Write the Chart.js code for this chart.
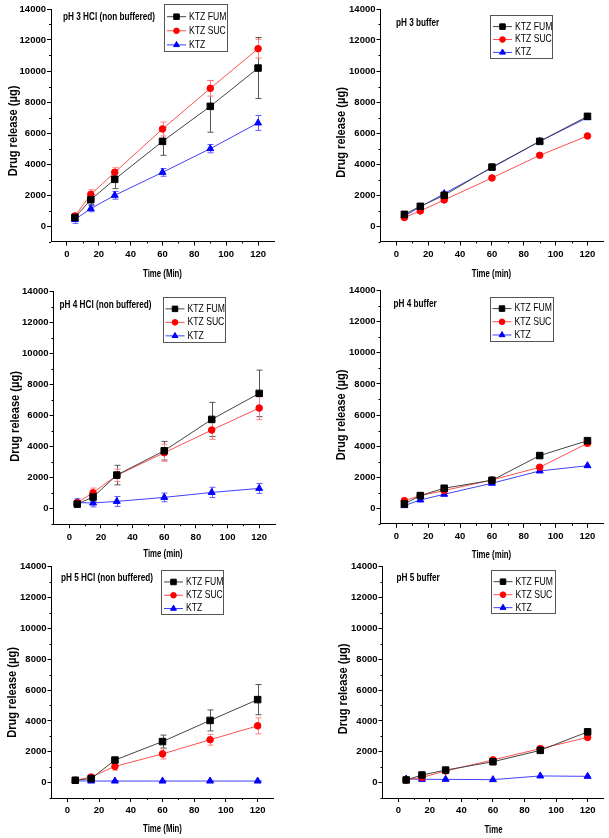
<!DOCTYPE html>
<html>
<head>
<meta charset="utf-8">
<script src="https://cdn.jsdelivr.net/npm/chart.js@4.4.1/dist/chart.umd.min.js"></script>
<style>
  html, body { margin: 0; padding: 0; background: #fff; }
  #wrap { position: relative; width: 609px; height: 838px; overflow: hidden; }
  #wrap canvas { position: absolute; }
</style>
</head>
<body>
<div id="wrap"></div>
<script>
// sampling times (min) and axis ticks
const times = [5, 15, 30, 60, 90, 120];
const xTicks = [0, 20, 40, 60, 80, 100, 120];
const yTicks = [0, 2000, 4000, 6000, 8000, 10000, 12000, 14000];
const seriesNames = ['KTZ FUM', 'KTZ SUC', 'KTZ'];

// pH 3 HCl (non buffered)
const ph3HclFum = [550, 1700, 3010, 5460, 7720, 10190];
const ph3HclSuc = [650, 2040, 3460, 6260, 8880, 11440];
const ph3HclKtz = [420, 1120, 1980, 3460, 4990, 6650];
const ph3HclFumSd = [200, 300, 600, 900, 1670, 1970];
const ph3HclSucSd = [150, 300, 300, 450, 500, 600];
const ph3HclKtzSd = [250, 200, 250, 250, 270, 480];

// pH 3 buffer
const ph3BufFum = [750, 1270, 1980, 3800, 5460, 7075];
const ph3BufSuc = [550, 970, 1680, 3100, 4560, 5810];
const ph3BufKtz = [650, 1230, 2090, 3760, 5460, 6990];

// pH 4 HCl (non buffered)
const ph4HclFum = [300, 750, 2170, 3740, 5760, 7440];
const ph4HclSuc = [390, 1030, 2150, 3610, 5075, 6495];
const ph4HclKtz = [390, 370, 470, 730, 1050, 1310];
const ph4HclFumSd = [200, 300, 630, 600, 1100, 1500];
const ph4HclSucSd = [150, 300, 400, 550, 600, 750];
const ph4HclKtzSd = [250, 250, 320, 280, 330, 320];

// pH 4 buffer
const ph4BufFum = [280, 815, 1290, 1800, 3390, 4350];
const ph4BufSuc = [490, 815, 1140, 1820, 2640, 4180];
const ph4BufKtz = [170, 535, 900, 1610, 2400, 2740];

// pH 5 HCl (non buffered)
const ph5HclFum = [150, 260, 1460, 2660, 4030, 5380];
const ph5HclSuc = [150, 360, 1050, 1860, 2780, 3680];
const ph5HclKtz = [110, 100, 100, 100, 100, 100];
const ph5HclFumSd = [50, 50, 150, 420, 680, 980];
const ph5HclSucSd = [50, 100, 250, 330, 350, 520];
const ph5HclKtzSd = [20, 20, 20, 20, 20, 20];

// pH 5 buffer
const ph5BufFum = [170, 490, 810, 1350, 2090, 3290];
const ph5BufSuc = [170, 340, 750, 1470, 2200, 2930];
const ph5BufKtz = [235, 210, 210, 190, 430, 405];

const FAMILY = '"Liberation Sans", Arial, sans-serif';
const styles = [
  { line: '#444444', point: '#000000', bar: '#555555', shape: 'rect', r: 4.6 },
  { line: '#ff5050', point: '#ff0000', bar: '#ff8080', shape: 'circle', r: 3.3 },
  { line: '#4040ff', point: '#0000ff', bar: '#6060ff', shape: 'triangle', r: 4 }
];

// page layout: cell = canvas box, area = plot frame [left, top, right, bottom]
const panels = [
  { title: 'pH 3 HCl (non buffered)', xTitle: 'Time (Min)',
    data: [ph3HclFum, ph3HclSuc, ph3HclKtz], sd: [ph3HclFumSd, ph3HclSucSd, ph3HclKtzSd],
    cell: [0, 0, 305, 280], area: [51, 9, 274, 241.5],
    titleAt: [63, 17], xTitleAt: [162.5, 274], yTitleAt: [13.5, 131], legend: [164, 4, 227, 51] },
  { title: 'pH 3 buffer', xTitle: 'Time (min)',
    data: [ph3BufFum, ph3BufSuc, ph3BufKtz], sd: null,
    cell: [305, 0, 304, 280], area: [380.5, 9, 603.5, 241.5],
    titleAt: [396, 23.5], xTitleAt: [491.5, 274], yTitleAt: [341.5, 132.5], legend: [490, 15, 552, 58] },
  { title: 'pH 4 HCl (non buffered)', xTitle: 'Time (min)',
    data: [ph4HclFum, ph4HclSuc, ph4HclKtz], sd: [ph4HclFumSd, ph4HclSucSd, ph4HclKtzSd],
    cell: [0, 280, 305, 280], area: [53.5, 291.7, 275, 524.2],
    titleAt: [59.5, 305], xTitleAt: [163, 553.5], yTitleAt: [15, 416.5], legend: [162.5, 296.7, 224, 341.7] },
  { title: 'pH 4 buffer', xTitle: 'Time (min)',
    data: [ph4BufFum, ph4BufSuc, ph4BufKtz], sd: null,
    cell: [305, 280, 304, 280], area: [380.5, 290.7, 603.5, 523.8],
    titleAt: [393.5, 304.5], xTitleAt: [491.5, 555], yTitleAt: [341.5, 415], legend: [489.5, 296.7, 552.5, 340.7] },
  { title: 'pH 5 HCl (non buffered)', xTitle: 'Time (Min)',
    data: [ph5HclFum, ph5HclSuc, ph5HclKtz], sd: [ph5HclFumSd, ph5HclSucSd, ph5HclKtzSd],
    cell: [0, 560, 305, 278], area: [51.5, 564.3, 273.5, 798],
    titleAt: [61, 578.5], xTitleAt: [162.5, 829], yTitleAt: [12, 692.5], legend: [161, 570, 222.5, 614.3] },
  { title: 'pH 5 buffer', xTitle: 'Time',
    data: [ph5BufFum, ph5BufSuc, ph5BufKtz], sd: null,
    cell: [305, 560, 304, 278], area: [382.5, 564.3, 604, 798],
    titleAt: [396.5, 578.5], xTitleAt: [493.5, 830], yTitleAt: [343.5, 689], legend: [490.5, 570, 554.5, 613.3] }
];

// squeezed text to mimic the narrow face of the original
function narrowText(ctx, text, x, y, font, align, squeeze, angle) {
  ctx.save();
  ctx.translate(x, y);
  if (angle) ctx.rotate(angle);
  ctx.scale(squeeze, 1);
  ctx.font = font;
  ctx.textAlign = align;
  ctx.textBaseline = 'middle';
  ctx.fillText(text, 0, 0);
  ctx.restore();
}

// error bars drawn under the lines, from the sd arrays
const errorBars = {
  id: 'errorBars',
  beforeDatasetsDraw(chart) {
    const p = chart.options.plugins.errorBars.panel;
    if (!p.sd) return;
    const ctx = chart.ctx, xs = chart.scales.x, ys = chart.scales.y;
    ctx.save();
    ctx.lineWidth = 1;
    p.sd.forEach((sdArr, k) => {
      ctx.strokeStyle = styles[k].bar;
      sdArr.forEach((sd, i) => {
        const v = p.data[k][i];
        const x = Math.round(xs.getPixelForValue(times[i])) + 0.5;
        const y1 = ys.getPixelForValue(v + sd), y2 = ys.getPixelForValue(v - sd);
        ctx.beginPath();
        ctx.moveTo(x, y1); ctx.lineTo(x, y2);
        ctx.moveTo(x - 3, y1); ctx.lineTo(x + 3, y1);
        ctx.moveTo(x - 3, y2); ctx.lineTo(x + 3, y2);
        ctx.stroke();
      });
    });
    ctx.restore();
  }
};

// minor ticks, titles and the boxed legend
const decorations = {
  id: 'decorations',
  afterDraw(chart) {
    const p = chart.options.plugins.errorBars.panel;
    const ctx = chart.ctx, xs = chart.scales.x, ys = chart.scales.y;
    const ox = p.cell[0], oy = p.cell[1];
    const ax = chart.chartArea.left, ay = chart.chartArea.bottom;
    ctx.save();
    ctx.strokeStyle = '#000';
    ctx.lineWidth = 1;
    ctx.beginPath();
    for (let v = -1000; v < 14000; v += 2000) {
      const y = Math.round(ys.getPixelForValue(v)) + 0.5;
      ctx.moveTo(ax - 2, y); ctx.lineTo(ax, y);
    }
    for (let t = 10; t <= 110; t += 20) {
      const x = Math.round(xs.getPixelForValue(t)) + 0.5;
      ctx.moveTo(x, ay); ctx.lineTo(x, ay + 2);
    }
    ctx.stroke();

    ctx.fillStyle = '#000';
    narrowText(ctx, p.title, p.titleAt[0] - ox, p.titleAt[1] - oy, 'bold 10px ' + FAMILY, 'left', 0.82);
    narrowText(ctx, p.xTitle, p.xTitleAt[0] - ox, p.xTitleAt[1] - oy, 'bold 11.5px ' + FAMILY, 'center', 0.68);
    narrowText(ctx, 'Drug release (\u00b5g)', p.yTitleAt[0] - ox, p.yTitleAt[1] - oy,
      'bold 13.5px ' + FAMILY, 'center', 0.82, -Math.PI / 2);

    const [l, t, r, b] = p.legend;
    const bl = Math.round(l - ox) + 0.5, bt = Math.round(t - oy) + 0.5;
    ctx.strokeStyle = '#555';
    ctx.strokeRect(bl, bt, Math.round(r - l), Math.round(b - t));
    seriesNames.forEach((name, k) => {
      const st = styles[k];
      const y = t - oy + (b - t) * (0.27 + k * 0.3);
      ctx.strokeStyle = st.line;
      ctx.beginPath();
      ctx.moveTo(l - ox + 3, y); ctx.lineTo(l - ox + 22, y);
      ctx.stroke();
      ctx.fillStyle = st.point;
      ctx.strokeStyle = st.point;
      Chart.helpers.drawPoint(ctx, { pointStyle: st.shape, radius: st.r * 0.85, borderWidth: 1, rotation: 0 }, l - ox + 12.5, y);
      ctx.fillStyle = '#000';
      narrowText(ctx, name, l - ox + 25, y, '10.5px ' + FAMILY, 'left', 0.82);
    });
    ctx.restore();
  }
};

const wrap = document.getElementById('wrap');
panels.forEach(p => {
  const [cx, cy, cw, ch] = p.cell;
  const [al, at, ar, ab] = p.area;
  const canvas = document.createElement('canvas');
  canvas.width = cw; canvas.height = ch;
  canvas.style.left = cx + 'px'; canvas.style.top = cy + 'px';
  canvas.style.width = cw + 'px'; canvas.style.height = ch + 'px';
  wrap.appendChild(canvas);

  const datasets = p.data.map((vals, k) => ({
    label: seriesNames[k],
    data: times.map((t, i) => ({ x: t, y: vals[i] })),
    borderColor: styles[k].line,
    borderWidth: 1,
    pointStyle: styles[k].shape,
    pointRadius: styles[k].r,
    pointBackgroundColor: styles[k].point,
    pointBorderColor: styles[k].point,
    pointBorderWidth: 1,
    tension: 0
  }));

  const tickFont = { family: FAMILY, size: 9.5, weight: 'bold' };
  new Chart(canvas.getContext('2d'), {
    type: 'line',
    data: { datasets },
    options: {
      responsive: false,
      animation: false,
      devicePixelRatio: 1,
      layout: { padding: { left: 0, top: at - cy, right: cx + cw - ar, bottom: 0 } },
      plugins: {
        legend: { display: false },
        tooltip: { enabled: false },
        errorBars: { panel: p }
      },
      scales: {
        x: {
          type: 'linear', min: -10, max: 130,
          afterBuildTicks: s => { s.ticks = xTicks.map(v => ({ value: v })); },
          afterFit: s => { s.height = cy + ch - ab; },
          grid: { drawOnChartArea: false, tickLength: 4, color: '#000' },
          border: { display: true, color: '#000', width: 1 },
          ticks: { font: tickFont, color: '#000', padding: 3, maxRotation: 0, callback: v => String(v) }
        },
        y: {
          type: 'linear', min: -1000, max: 14000,
          afterBuildTicks: s => { s.ticks = yTicks.map(v => ({ value: v })); },
          afterFit: s => { s.width = al - cx; },
          grid: { drawOnChartArea: false, tickLength: 4, color: '#000' },
          border: { display: true, color: '#000', width: 1 },
          ticks: { font: tickFont, color: '#000', padding: 1, callback: v => String(v) }
        }
      }
    },
    plugins: [errorBars, decorations]
  });
});
</script>
</body>
</html>
